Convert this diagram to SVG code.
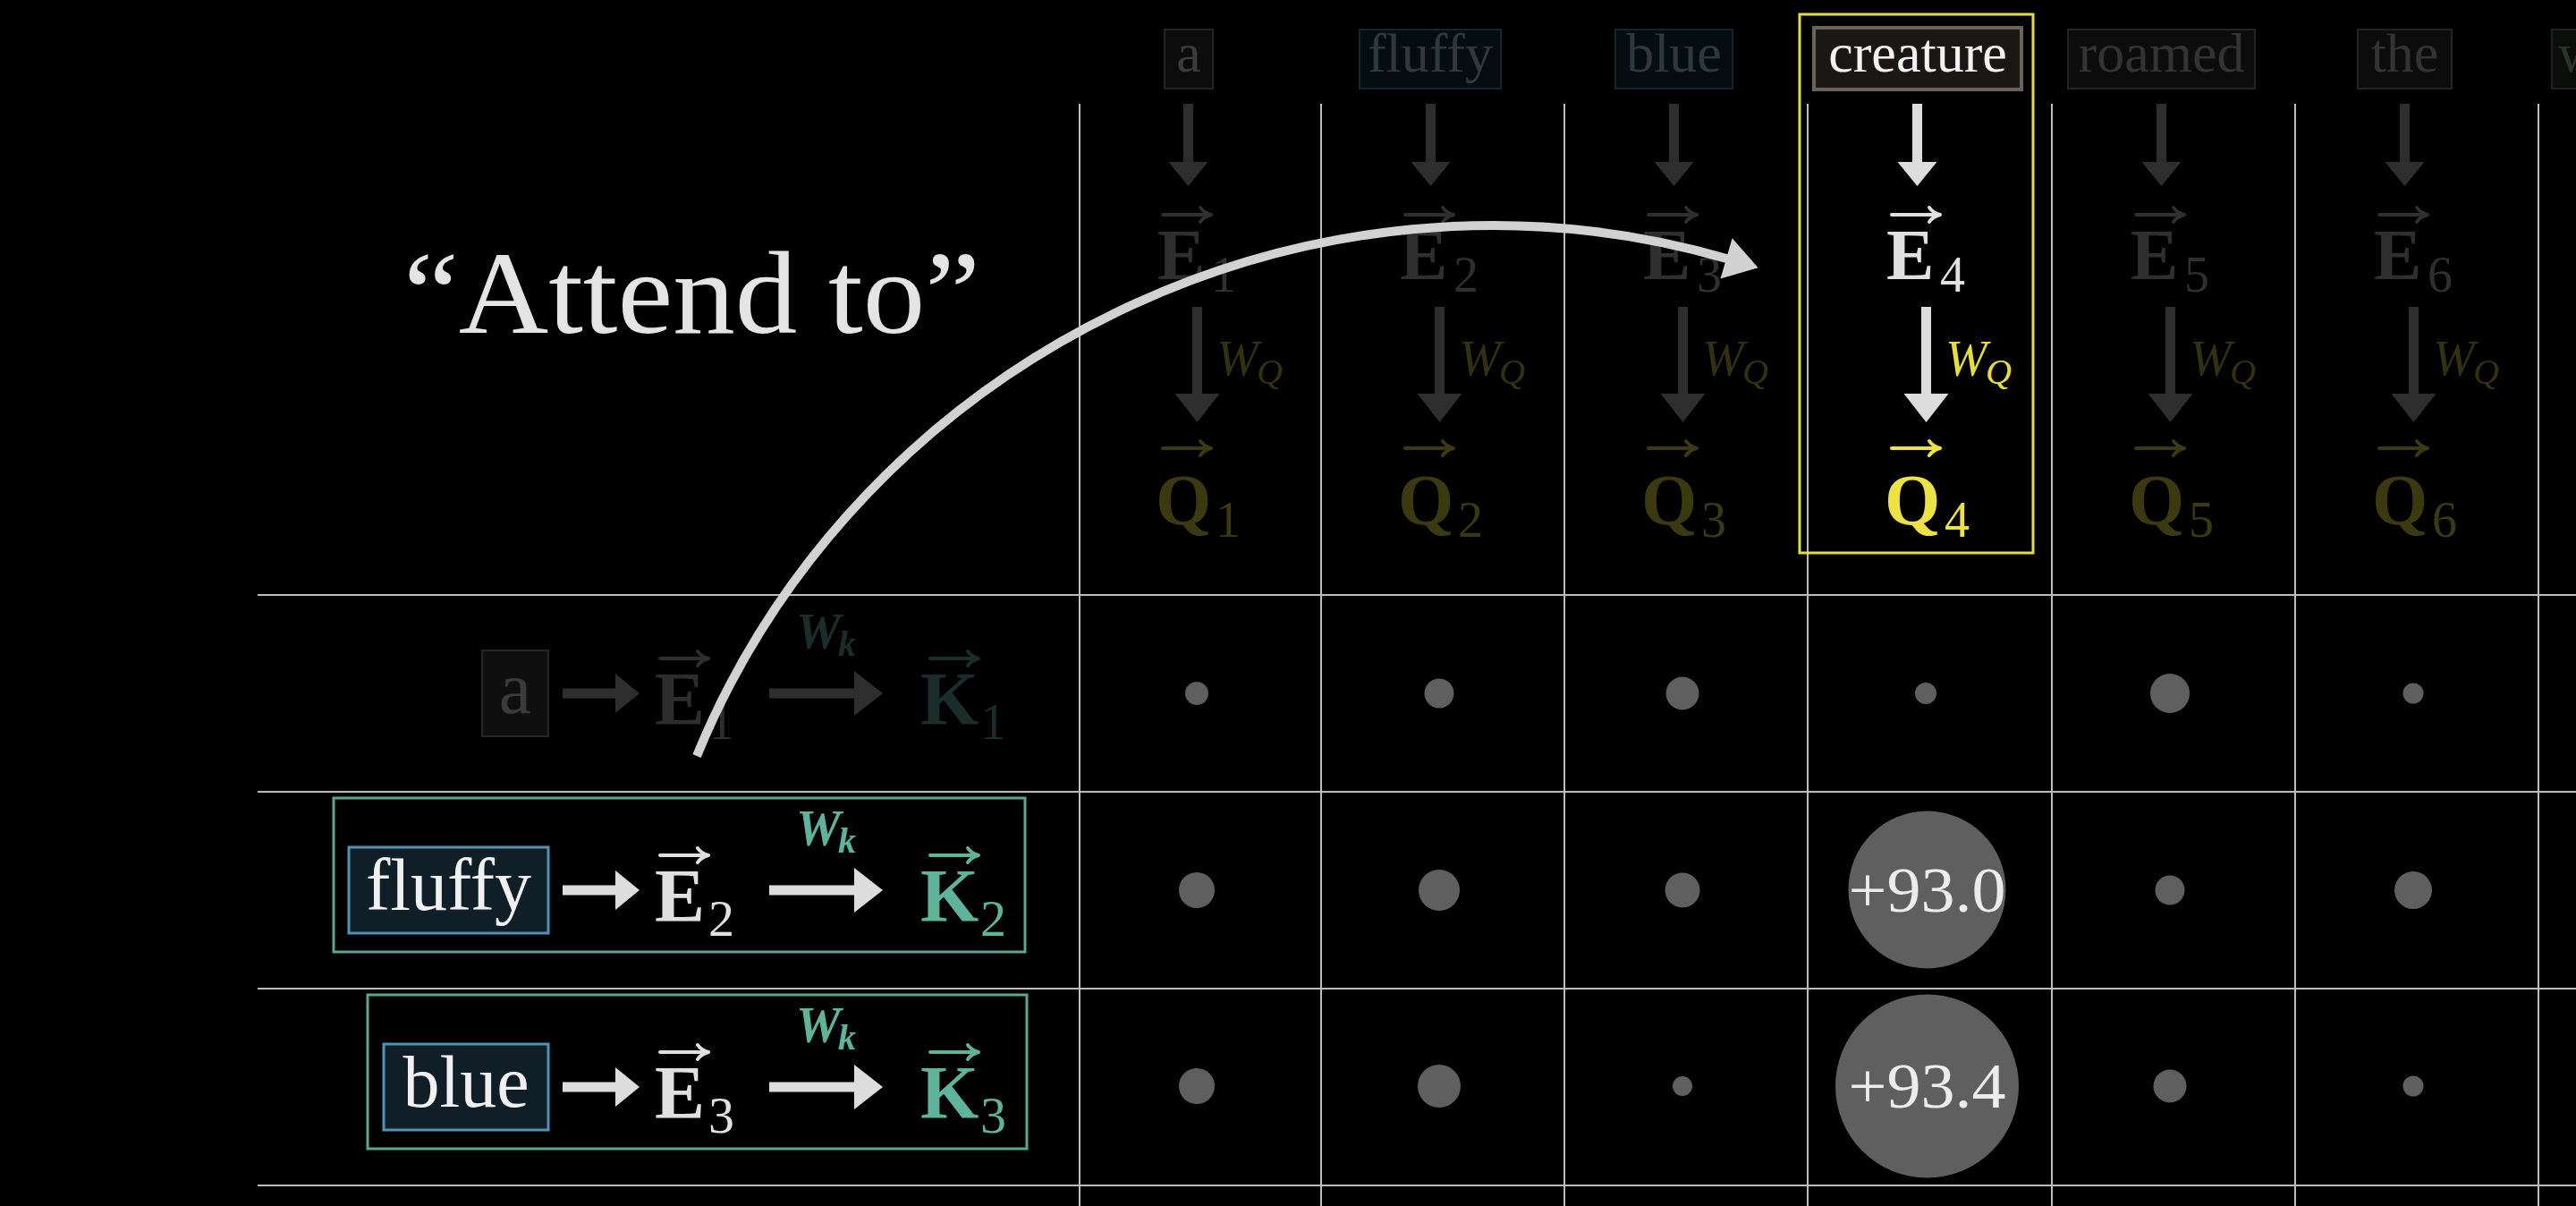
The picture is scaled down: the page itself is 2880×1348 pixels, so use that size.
<svg xmlns="http://www.w3.org/2000/svg" width="2880" height="1348" viewBox="0 0 2880 1348">
<style>
text{font-family:"Liberation Serif","DejaVu Serif",serif}
.grid line{stroke:#bcbcbc;stroke-width:2}
.tw{font-size:62px;text-anchor:middle}
.vb{font-size:80px;font-weight:bold}
.sub{font-size:56px}
.wq{font-size:56px;font-style:italic}
.wqs{font-size:40px;font-style:italic}
.rw{font-size:82px;text-anchor:middle}
.rb{font-size:84px;font-weight:bold}
.rsub{font-size:58px}
.wk{font-size:56px;font-style:italic;font-weight:bold}
.wks{font-size:40px;font-style:italic;font-weight:bold}
.shaft{stroke-width:11;fill:none}
.vec{fill:none;stroke-width:4;stroke-linejoin:round;stroke-linecap:round}
.dot{fill:#5f5f5f}
.bxd{fill:#0c0c0c;stroke:#242424;stroke-width:2}
.bxt{fill:#050d10;stroke:#15262b;stroke-width:2}
.rowbox{fill:#0f1e27;stroke:#4f93b5;stroke-width:3}
.teal{fill:none;stroke:#5aa690;stroke-width:3}
.dimE{fill:#2f2f2f}
.dimQ{fill:#3a3910}
.dimW{fill:#32310f}
.num{font-size:72px;text-anchor:middle;fill:#ececec}
</style>
<defs>
<path id="vec" d="M0,0 H50 M42,-8 Q46,-2 54,0 Q46,2 42,8"/>
<marker id="hSL" markerUnits="userSpaceOnUse" orient="auto" refX="0" refY="0" markerWidth="30" markerHeight="46" overflow="visible"><path d="M0,-22 L27,0 L0,22 Z" fill="#dddddd"/></marker>
<marker id="hBL" markerUnits="userSpaceOnUse" orient="auto" refX="0" refY="0" markerWidth="34" markerHeight="52" overflow="visible"><path d="M0,-25 L32,0 L0,25 Z" fill="#dddddd"/></marker>
<marker id="hSD" markerUnits="userSpaceOnUse" orient="auto" refX="0" refY="0" markerWidth="30" markerHeight="46" overflow="visible"><path d="M0,-22 L27,0 L0,22 Z" fill="#2e2e2e"/></marker>
<marker id="hBD" markerUnits="userSpaceOnUse" orient="auto" refX="0" refY="0" markerWidth="34" markerHeight="52" overflow="visible"><path d="M0,-25 L32,0 L0,25 Z" fill="#2e2e2e"/></marker>
<marker id="hC" markerUnits="userSpaceOnUse" orient="auto" refX="0" refY="0" markerWidth="38" markerHeight="50" overflow="visible"><path d="M-2,-23.5 L35,0 L-2,23.5 Z" fill="#d2d2d2"/></marker>
</defs>
<rect width="2880" height="1348" fill="#000"/>

<g id="grid" class="grid">
<line x1="288" y1="665" x2="2880" y2="665"/>
<line x1="288" y1="885" x2="2880" y2="885"/>
<line x1="288" y1="1105" x2="2880" y2="1105"/>
<line x1="288" y1="1325" x2="2880" y2="1325"/>
<line x1="1207" y1="116" x2="1207" y2="1348"/>
<line x1="1477" y1="116" x2="1477" y2="1348"/>
<line x1="1749" y1="116" x2="1749" y2="1348"/>
<line x1="2021" y1="116" x2="2021" y2="1348"/>
<line x1="2294" y1="116" x2="2294" y2="1348"/>
<line x1="2566" y1="116" x2="2566" y2="1348"/>
<line x1="2838" y1="116" x2="2838" y2="1348"/>
</g>

<g id="title"><text x="451" y="372" font-size="132" fill="#e4e4e4" textLength="645" lengthAdjust="spacingAndGlyphs">“Attend to”</text></g>

<g id="col1">
<rect x="1302" y="33" width="54" height="66" class="bxd"/>
<text x="1329" y="80" class="tw" fill="#3c3c3c">a</text>
<use href="#vec" x="1300" y="240" class="vec" stroke="#2f2f2f"/>
<text x="1294" y="312" class="vb dimE">E</text><text x="1354" y="326" class="sub dimE">1</text>
<text class="wq dimW"><tspan x="1360" y="420">W</tspan><tspan x="1405" y="429" class="wqs">Q</tspan></text>
<use href="#vec" x="1300" y="501" class="vec" stroke="#3a3910"/>
<text x="1292" y="586" class="vb dimQ">Q</text><text x="1359" y="600" class="sub dimQ">1</text>
</g>
<g id="col2">
<rect x="1520" y="33" width="158" height="66" class="bxt"/>
<text x="1599" y="80" class="tw" fill="#2e393c">fluffy</text>
<use href="#vec" x="1571" y="240" class="vec" stroke="#2f2f2f"/>
<text x="1565" y="312" class="vb dimE">E</text><text x="1625" y="326" class="sub dimE">2</text>
<text class="wq dimW"><tspan x="1631" y="420">W</tspan><tspan x="1676" y="429" class="wqs">Q</tspan></text>
<use href="#vec" x="1571" y="501" class="vec" stroke="#3a3910"/>
<text x="1563" y="586" class="vb dimQ">Q</text><text x="1630" y="600" class="sub dimQ">2</text>
</g>
<g id="col3">
<rect x="1806" y="33" width="131" height="66" class="bxt"/>
<text x="1871.5" y="80" class="tw" fill="#2e393c">blue</text>
<use href="#vec" x="1843" y="240" class="vec" stroke="#2f2f2f"/>
<text x="1837" y="312" class="vb dimE">E</text><text x="1897" y="326" class="sub dimE">3</text>
<text class="wq dimW"><tspan x="1903" y="420">W</tspan><tspan x="1948" y="429" class="wqs">Q</tspan></text>
<use href="#vec" x="1843" y="501" class="vec" stroke="#3a3910"/>
<text x="1835" y="586" class="vb dimQ">Q</text><text x="1902" y="600" class="sub dimQ">3</text>
</g>
<g id="col4">
<rect x="2012" y="16" width="261" height="602" fill="none" stroke="#e3dc4a" stroke-width="3"/>
<rect x="2028" y="31" width="232" height="69" fill="#1b1714" stroke="#6b625a" stroke-width="4"/>
<text x="2144" y="80" class="tw" fill="#f2f2f2">creature</text>
<use href="#vec" x="2115" y="240" class="vec" stroke="#e0e0e0"/>
<text x="2109" y="312" class="vb" fill="#e0e0e0">E</text><text x="2169" y="326" class="sub" fill="#e0e0e0">4</text>
<text class="wq" fill="#e6de40"><tspan x="2175" y="420">W</tspan><tspan x="2220" y="429" class="wqs">Q</tspan></text>
<use href="#vec" x="2115" y="501" class="vec" stroke="#ece245"/>
<text x="2107" y="586" class="vb" fill="#ece245">Q</text><text x="2174" y="600" class="sub" fill="#ece245">4</text>
</g>
<g id="col5">
<rect x="2312" y="33" width="209" height="66" class="bxd"/>
<text x="2416.5" y="80" class="tw" fill="#333">roamed</text>
<use href="#vec" x="2388" y="240" class="vec" stroke="#2f2f2f"/>
<text x="2382" y="312" class="vb dimE">E</text><text x="2442" y="326" class="sub dimE">5</text>
<text class="wq dimW"><tspan x="2448" y="420">W</tspan><tspan x="2493" y="429" class="wqs">Q</tspan></text>
<use href="#vec" x="2388" y="501" class="vec" stroke="#3a3910"/>
<text x="2380" y="586" class="vb dimQ">Q</text><text x="2447" y="600" class="sub dimQ">5</text>
</g>
<g id="col6">
<rect x="2636" y="33" width="105" height="66" class="bxd"/>
<text x="2688.5" y="80" class="tw" fill="#333">the</text>
<use href="#vec" x="2660" y="240" class="vec" stroke="#2f2f2f"/>
<text x="2654" y="312" class="vb dimE">E</text><text x="2714" y="326" class="sub dimE">6</text>
<text class="wq dimW"><tspan x="2720" y="420">W</tspan><tspan x="2765" y="429" class="wqs">Q</tspan></text>
<use href="#vec" x="2660" y="501" class="vec" stroke="#3a3910"/>
<text x="2652" y="586" class="vb dimQ">Q</text><text x="2719" y="600" class="sub dimQ">6</text>
</g>
<g id="col7">
<rect x="2853" y="33" width="60" height="66" fill="#0a0d0a" stroke="#1d241d" stroke-width="2"/>
<text x="2860" y="80" font-size="62" fill="#2a332a">w</text>
</g>

<g id="row-a">
<rect x="539" y="727" width="74" height="96" fill="#0f0f0f" stroke="#262626" stroke-width="2"/>
<text x="576" y="797" class="rw" fill="#3a3a3a">a</text>
<use href="#vec" x="738" y="736" class="vec" stroke="#2d2d2d"/>
<text x="732" y="810" class="rb" fill="#2d2d2d">E</text><text x="792" y="826" class="rsub" fill="#2d2d2d">1</text>
<text class="wk" fill="#1b2d28"><tspan x="890" y="725">W</tspan><tspan x="937" y="733" class="wks">k</tspan></text>
<use href="#vec" x="1040" y="736" class="vec" stroke="#1b2d28"/>
<text x="1029" y="810" class="rb" fill="#1b2d28">K</text><text x="1096" y="826" class="rsub" fill="#1b2d28">1</text>
</g>
<g id="row-fluffy">
<rect x="373" y="892" width="773" height="172" class="teal"/>
<rect x="390" y="947" width="223" height="96" class="rowbox"/>
<text x="501.5" y="1017" class="rw" fill="#f0f0f0">fluffy</text>
<use href="#vec" x="738" y="956" class="vec" stroke="#e0e0e0"/>
<text x="732" y="1030" class="rb" fill="#e0e0e0">E</text><text x="792" y="1046" class="rsub" fill="#e0e0e0">2</text>
<text class="wk" fill="#5fb39b"><tspan x="890" y="945">W</tspan><tspan x="937" y="953" class="wks">k</tspan></text>
<use href="#vec" x="1040" y="956" class="vec" stroke="#5fb39b"/>
<text x="1029" y="1030" class="rb" fill="#5fb39b">K</text><text x="1096" y="1046" class="rsub" fill="#5fb39b">2</text>
</g>
<g id="row-blue">
<rect x="411" y="1112" width="737" height="172" class="teal"/>
<rect x="429" y="1167" width="184" height="96" class="rowbox"/>
<text x="521" y="1237" class="rw" fill="#f0f0f0">blue</text>
<use href="#vec" x="738" y="1176" class="vec" stroke="#e0e0e0"/>
<text x="732" y="1250" class="rb" fill="#e0e0e0">E</text><text x="792" y="1266" class="rsub" fill="#e0e0e0">3</text>
<text class="wk" fill="#5fb39b"><tspan x="890" y="1165">W</tspan><tspan x="937" y="1173" class="wks">k</tspan></text>
<use href="#vec" x="1040" y="1176" class="vec" stroke="#5fb39b"/>
<text x="1029" y="1250" class="rb" fill="#5fb39b">K</text><text x="1096" y="1266" class="rsub" fill="#5fb39b">3</text>
</g>

<g id="scores">
<circle class="dot" cx="1338" cy="775" r="13"/>
<circle class="dot" cx="1609" cy="775" r="16.5"/>
<circle class="dot" cx="1881" cy="775" r="18.5"/>
<circle class="dot" cx="2153" cy="775" r="12"/>
<circle class="dot" cx="2426" cy="775" r="22"/>
<circle class="dot" cx="2698" cy="775" r="11.5"/>
<circle class="dot" cx="1338" cy="995" r="20"/>
<circle class="dot" cx="1609" cy="995" r="23"/>
<circle class="dot" cx="1881" cy="995" r="19.5"/>
<circle class="dot" cx="2154.5" cy="994.5" r="88"/>
<circle class="dot" cx="2426" cy="995" r="16.5"/>
<circle class="dot" cx="2698" cy="995" r="21"/>
<circle class="dot" cx="1338" cy="1214" r="20"/>
<circle class="dot" cx="1609" cy="1214" r="24"/>
<circle class="dot" cx="1881" cy="1214" r="11"/>
<circle class="dot" cx="2154.5" cy="1214" r="102.5"/>
<circle class="dot" cx="2426" cy="1214" r="18.5"/>
<circle class="dot" cx="2698" cy="1214" r="11.5"/>
<text x="2154.5" y="1019" class="num" textLength="176" lengthAdjust="spacingAndGlyphs">+93.0</text>
<text x="2154.5" y="1238" class="num" textLength="176" lengthAdjust="spacingAndGlyphs">+93.4</text>
</g>

<g id="connectors">
<path class="shaft" stroke="#2e2e2e" d="M1328.5,116 V181" marker-end="url(#hSD)"/>
<path class="shaft" stroke="#2e2e2e" d="M1599.5,116 V181" marker-end="url(#hSD)"/>
<path class="shaft" stroke="#2e2e2e" d="M1871.5,116 V181" marker-end="url(#hSD)"/>
<path class="shaft" stroke="#dddddd" d="M2143.5,116 V181" marker-end="url(#hSL)"/>
<path class="shaft" stroke="#2e2e2e" d="M2416.5,116 V181" marker-end="url(#hSD)"/>
<path class="shaft" stroke="#2e2e2e" d="M2688.5,116 V181" marker-end="url(#hSD)"/>
<path class="shaft" stroke="#2e2e2e" d="M1338.5,343 V440" marker-end="url(#hBD)"/>
<path class="shaft" stroke="#2e2e2e" d="M1609.5,343 V440" marker-end="url(#hBD)"/>
<path class="shaft" stroke="#2e2e2e" d="M1881.5,343 V440" marker-end="url(#hBD)"/>
<path class="shaft" stroke="#dddddd" d="M2153.5,343 V440" marker-end="url(#hBL)"/>
<path class="shaft" stroke="#2e2e2e" d="M2426.5,343 V440" marker-end="url(#hBD)"/>
<path class="shaft" stroke="#2e2e2e" d="M2698.5,343 V440" marker-end="url(#hBD)"/>
<path class="shaft" stroke="#2e2e2e" d="M629,775 H688" marker-end="url(#hSD)"/>
<path class="shaft" stroke="#2e2e2e" d="M860,775 H955" marker-end="url(#hBD)"/>
<path class="shaft" stroke="#dddddd" d="M629,995 H688" marker-end="url(#hSL)"/>
<path class="shaft" stroke="#dddddd" d="M860,995 H955" marker-end="url(#hBL)"/>
<path class="shaft" stroke="#dddddd" d="M629,1215 H688" marker-end="url(#hSL)"/>
<path class="shaft" stroke="#dddddd" d="M860,1215 H955" marker-end="url(#hBL)"/>
<path d="M779,845 C961,401 1462,153 1932,289.5" fill="none" stroke="#d2d2d2" stroke-width="10" marker-end="url(#hC)"/>
</g>
</svg>
